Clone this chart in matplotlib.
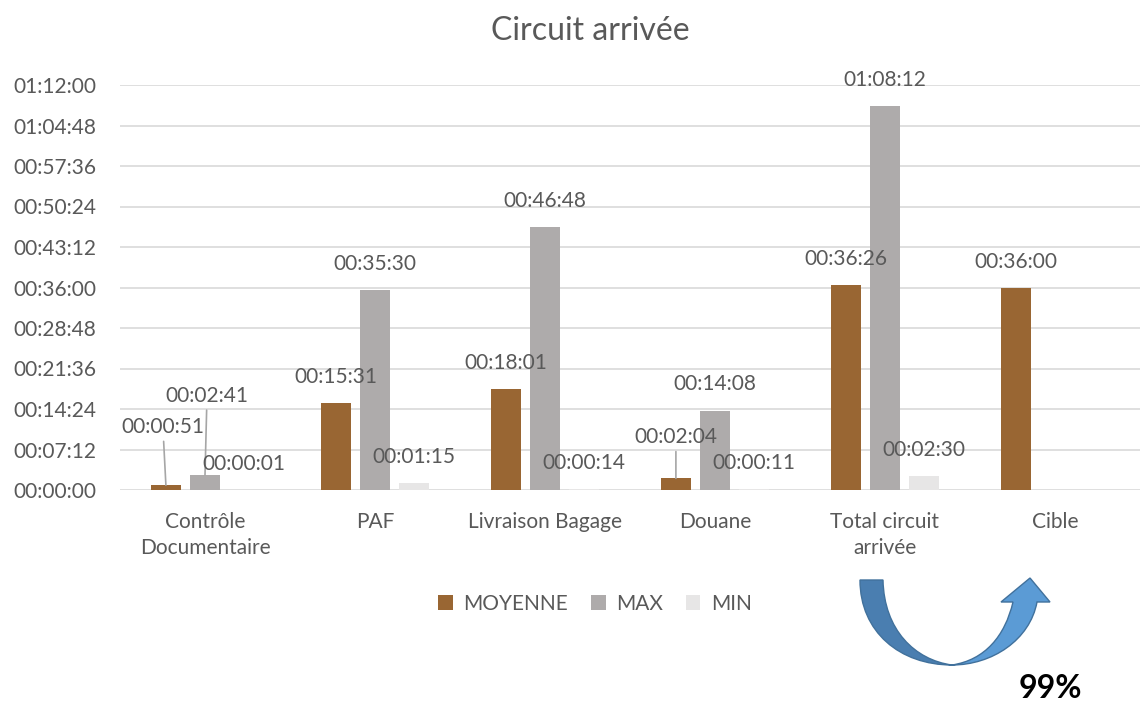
import numpy as np
import matplotlib
matplotlib.use("Agg")
import matplotlib.pyplot as plt
from matplotlib.path import Path
from matplotlib.patches import PathPatch
from matplotlib.ticker import FuncFormatter, MultipleLocator

plt.rcParams['font.family'] = ['Lato', 'DejaVu Sans']

# donnees (en secondes)
categories = ["Contrôle\nDocumentaire", "PAF", "Livraison Bagage", "Douane",
              "Total circuit\narrivée", "Cible"]
moyenne = [51, 931, 1081, 124, 2186, 2160]
maximum = [161, 2130, 2808, 848, 4092, np.nan]
minimum = [1, 75, 14, 11, 150, np.nan]
series_names = ["MOYENNE", "MAX", "MIN"]
colors = ["#996633", "#AEABAB", "#E7E6E6"]
gain_label = "99%"

TXT = "#595959"
W, H = 1142, 704


def hms(sec, pos=None):
    sec = int(round(sec))
    return f"{sec // 3600:02d}:{(sec % 3600) // 60:02d}:{sec % 60:02d}"


fig = plt.figure(figsize=(W / 100, H / 100), dpi=100)
ax = fig.add_axes([120 / W, 1 - 490 / H, 1020 / W, 405 / H])

x = np.arange(len(categories))
step, width = 0.23, 0.18
all_series = [moyenne, maximum, minimum]
bars = []
for i, (vals, name, col) in enumerate(zip(all_series, series_names, colors)):
    b = ax.bar(x + (i - 1) * step, vals, width, color=col, label=name, zorder=3)
    bars.append(b)

# decalages specifiques des etiquettes (pixels) : (serie, categorie) -> (dx, dy)
special = {(0, 0): (-3, 58), (1, 0): (2, 79), (0, 3): (0, 41)}
px = 72 / 100
for i, vals in enumerate(all_series):
    for j, v in enumerate(vals):
        if np.isnan(v):
            continue
        xc = x[j] + (i - 1) * step
        dx, dy = special.get((i, j), (0, 26))
        arrow = None
        if (i, j) in special:
            arrow = dict(arrowstyle='-', color='#A6A6A6', lw=1.2, shrinkA=1, shrinkB=0)
        ax.annotate(hms(v), xy=(xc, v), xytext=(dx * px, dy * px),
                    textcoords='offset points', ha='center', va='center',
                    fontsize=15, color=TXT, arrowprops=arrow, zorder=4)

ax.set_xlim(-0.5, len(categories) - 0.5)
ax.set_ylim(0, 4320)
ax.yaxis.set_major_locator(MultipleLocator(432))
ax.yaxis.set_major_formatter(FuncFormatter(hms))
ax.set_xticks(x)
ax.set_xticklabels(categories, fontsize=15, color=TXT, linespacing=1.35)
ax.tick_params(axis='x', length=0, pad=16)
ax.tick_params(axis='y', length=0, pad=17, labelsize=15, labelcolor=TXT)
ax.grid(axis='y', color='#D9D9D9', lw=1.2, zorder=0)
for s in ax.spines.values():
    s.set_visible(False)

fig.text(590 / W, 1 - 31 / H, "Circuit arrivée", ha='center', va='center',
         fontsize=23, color=TXT)

fig.legend(handles=bars, labels=series_names, loc='center',
           bbox_to_anchor=(595 / W, 1 - 604 / H), ncol=3, frameon=False,
           fontsize=15, handlelength=0.7, handleheight=0.7, handletextpad=0.5,
           columnspacing=1.1, labelcolor=TXT)


# fleche courbe (decoration)
def fp(px_, py_):
    return (px_ / W, 1 - py_ / H)


left_pts = [fp(860, 580), fp(860, 632), fp(900, 665), fp(952, 665),
            fp(915, 660), fp(884, 630), fp(883, 580), fp(860, 580)]
left_codes = [Path.MOVETO, Path.CURVE4, Path.CURVE4, Path.CURVE4,
              Path.CURVE4, Path.CURVE4, Path.CURVE4, Path.CLOSEPOLY]
right_pts = [fp(952, 665), fp(992, 665), fp(1030, 640), fp(1037, 602),
             fp(1050, 602), fp(1030, 578), fp(1001, 602), fp(1013, 602),
             fp(1005, 636), fp(985, 660), fp(952, 665), fp(952, 665)]
right_codes = [Path.MOVETO, Path.CURVE4, Path.CURVE4, Path.CURVE4,
               Path.LINETO, Path.LINETO, Path.LINETO, Path.LINETO,
               Path.CURVE4, Path.CURVE4, Path.CURVE4, Path.CLOSEPOLY]
fig.patches.append(PathPatch(Path(left_pts, left_codes), transform=fig.transFigure,
                             facecolor='#4A7EB0', edgecolor='#41719C', lw=1))
fig.patches.append(PathPatch(Path(right_pts, right_codes), transform=fig.transFigure,
                             facecolor='#5B9BD5', edgecolor='#41719C', lw=1))

fig.text(1050 / W, 1 - 689 / H, gain_label, ha='center', va='center',
         fontsize=23, fontweight='bold', color='black')

fig.savefig("out.png", dpi=100)
